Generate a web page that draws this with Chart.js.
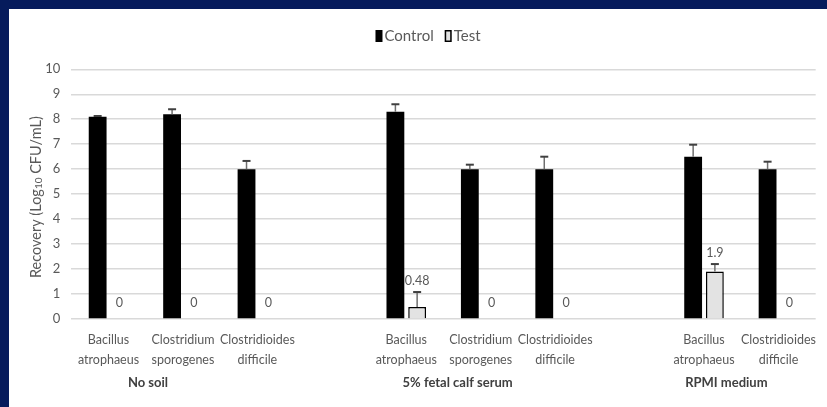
<!DOCTYPE html>
<html>
<head>
<meta charset="utf-8">
<script src="https://cdn.jsdelivr.net/npm/chart.js@4.4.1/dist/chart.umd.min.js"></script>
<style>
  html, body { margin: 0; padding: 0; width: 827px; height: 407px; overflow: hidden; background: #061b5c; }
  #panel { position: absolute; left: 9px; top: 9px; width: 818px; height: 398px; background: #ffffff; }
  canvas { display: block; }
</style>
</head>
<body>
<div id="panel"><canvas id="chart" width="818" height="398"></canvas></div>
<script>
// Organisms per condition; empty slots separate the three conditions.
const categories = [
  ['Bacillus', 'atrophaeus'], ['Clostridium', 'sporogenes'], ['Clostridioides', 'difficile'],
  '',
  ['Bacillus', 'atrophaeus'], ['Clostridium', 'sporogenes'], ['Clostridioides', 'difficile'],
  '',
  ['Bacillus', 'atrophaeus'], ['Clostridioides', 'difficile']
];
const conditions = ['No soil', '5% fetal calf serum', 'RPMI medium'];

// Recovery, log10 CFU/mL, with the upper error (SD)
const controlValues = [8.1, 8.2, 6.0, null, 8.3, 6.0, 6.0, null, 6.5, 6.0];
const controlErrors = [0.03, 0.2, 0.33, null, 0.3, 0.18, 0.5, null, 0.48, 0.3];
const testValues    = [0, 0, 0, null, 0.48, 0, 0, null, 1.9, 0];
const testErrors    = [0, 0, 0, null, 0.6, 0, 0, null, 0.3, 0];

const yTicks = { min: 0, max: 10, step: 1 };

// Where each condition caption sits, in category units along the x axis
const conditionCaptionAt = [0.53, 4.69, 8.3];

const FONT = 'Lato, "Open Sans", sans-serif';
const TEXT = '#595959';

const errorBars = {
  id: 'errorBars',
  afterDatasetsDraw(chart) {
    const y = chart.scales.y;
    const ctx = chart.ctx;
    chart.data.datasets.forEach((ds, d) => {
      const meta = chart.getDatasetMeta(d);
      meta.data.forEach((el, i) => {
        const v = ds.data[i], e = ds.errors[i];
        if (v == null || !e) return;
        const top = y.getPixelForValue(v + e);
        ctx.save();
        ctx.strokeStyle = '#6f6f6f';
        ctx.lineWidth = 1.5;
        ctx.beginPath();
        ctx.moveTo(el.x, el.y);
        ctx.lineTo(el.x, top);
        ctx.stroke();
        ctx.strokeStyle = '#404040';
        ctx.lineWidth = 2;
        ctx.beginPath();
        ctx.moveTo(el.x - 4, top);
        ctx.lineTo(el.x + 4, top);
        ctx.stroke();
        ctx.restore();
      });
    });
  }
};

const valueLabels = {
  id: 'valueLabels',
  afterDatasetsDraw(chart) {
    const y = chart.scales.y;
    const ctx = chart.ctx;
    const d = 1; // Test series carries the printed values
    const ds = chart.data.datasets[d];
    const meta = chart.getDatasetMeta(d);
    ctx.save();
    ctx.font = '12.5px ' + FONT;
    ctx.fillStyle = TEXT;
    ctx.textAlign = 'center';
    ctx.textBaseline = 'middle';
    meta.data.forEach((el, i) => {
      const v = ds.data[i];
      if (v == null) return;
      const cy = Math.min(el.y - 16, y.getPixelForValue(v + (ds.errors[i] || 0)) - 11);
      ctx.fillText(String(v), el.x, cy);
    });
    ctx.restore();
  }
};

const captions = {
  id: 'captions',
  afterDraw(chart) {
    const ctx = chart.ctx;
    const x = chart.scales.x;
    const area = chart.chartArea;
    ctx.save();

    // condition captions under the organism names
    ctx.font = 'bold 13px ' + FONT;
    ctx.fillStyle = '#404040';
    ctx.textAlign = 'center';
    ctx.textBaseline = 'middle';
    conditions.forEach((name, k) => {
      ctx.fillText(name, x.getPixelForValue(conditionCaptionAt[k]), 374);
    });

    // y axis title with subscript
    ctx.fillStyle = TEXT;
    const big = '14.5px ' + FONT, small = '10px ' + FONT;
    const parts = [['Recovery (Log', big, 0], ['10', small, 3], [' CFU/mL)', big, 0]];
    let total = 0;
    parts.forEach(p => { ctx.font = p[1]; p.push(ctx.measureText(p[0]).width); total += p[3]; });
    ctx.translate(27, (area.top + area.bottom) / 2 + 3);
    ctx.rotate(-Math.PI / 2);
    ctx.textAlign = 'left';
    let px = -total / 2;
    parts.forEach(p => { ctx.font = p[1]; ctx.fillText(p[0], px, p[2]); px += p[3]; });
    ctx.restore();

    // legend
    ctx.save();
    ctx.font = '15px ' + FONT;
    ctx.textBaseline = 'middle';
    ctx.textAlign = 'left';
    const items = chart.data.datasets.map(ds => ({ label: ds.label, fill: ds.backgroundColor, stroke: ds.legendStroke, w: ctx.measureText(ds.label).width }));
    const boxW = 7, boxH = 12, gap = 2, between = 11;
    let width = 0;
    items.forEach((it, k) => { width += boxW + gap + it.w + (k < items.length - 1 ? between : 0); });
    let lx = chart.width / 2 + 10 - width / 2;
    const ly = 27;
    items.forEach(it => {
      ctx.fillStyle = it.fill;
      ctx.fillRect(lx, ly - boxH / 2, boxW, boxH);
      if (it.stroke) {
        ctx.strokeStyle = it.stroke;
        ctx.lineWidth = 1.5;
        ctx.strokeRect(lx + 0.75, ly - boxH / 2 + 0.75, boxW - 1.5, boxH - 1.5);
      }
      ctx.fillStyle = TEXT;
      ctx.fillText(it.label, lx + boxW + gap, ly);
      lx += boxW + gap + it.w + between;
    });
    ctx.restore();
  }
};

new Chart(document.getElementById('chart'), {
  type: 'bar',
  data: {
    labels: categories,
    datasets: [
      {
        label: 'Control',
        data: controlValues,
        errors: controlErrors,
        backgroundColor: '#000000',
        borderWidth: 0,
        categoryPercentage: 0.584,
        barPercentage: 0.82
      },
      {
        label: 'Test',
        data: testValues,
        errors: testErrors,
        backgroundColor: '#e3e3e3',
        borderColor: '#000000',
        legendStroke: '#000000',
        borderWidth: ctx => (ctx.raw ? 1.5 : 0),
        borderSkipped: 'bottom',
        categoryPercentage: 0.584,
        barPercentage: 0.82
      }
    ]
  },
  options: {
    responsive: false,
    animation: false,
    devicePixelRatio: 1,
    layout: { padding: { top: 60.3, right: 1.7, left: 0, bottom: 0 } },
    plugins: {
      legend: { display: false },
      tooltip: { enabled: false }
    },
    scales: {
      x: {
        offset: true,
        grid: { display: false, drawTicks: false },
        border: { display: false },
        ticks: {
          color: TEXT,
          font: { family: FONT, size: 12.5, lineHeight: 1.6 },
          padding: 11,
          maxRotation: 0,
          autoSkip: false
        },
        afterFit(scale) { scale.height = 88; }
      },
      y: {
        min: yTicks.min,
        max: yTicks.max,
        grid: { color: '#d9d9d9', lineWidth: 1.5, drawTicks: false },
        border: { display: false },
        ticks: {
          stepSize: yTicks.step,
          color: TEXT,
          font: { family: FONT, size: 13 },
          padding: 11
        },
        afterFit(scale) { scale.width = 62.3; }
      }
    }
  },
  plugins: [errorBars, valueLabels, captions]
});
</script>
</body>
</html>
